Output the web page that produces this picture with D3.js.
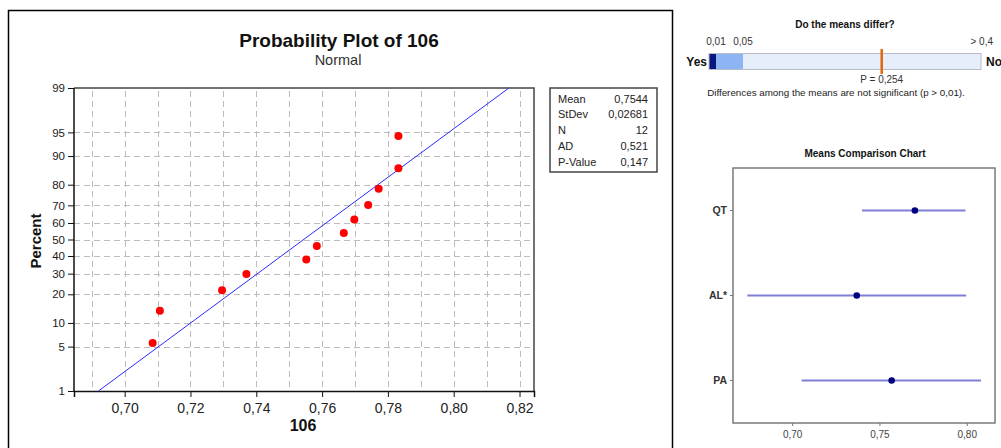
<!DOCTYPE html>
<html lang="en">
<head>
    <meta charset="UTF-8"/>
    <title>Probability Plot of 106</title>
    <style>
        body { margin: 0; background: #fff; }
        text { font-family: "Liberation Sans", Arial, sans-serif; }
    </style>
</head>
<body>
<svg id="chart" width="1001" height="448"></svg>

<script src="https://d3js.org/d3.v7.min.js"></script>
<script type="text/javascript">

    // probability plot data (values of 106 and their plotting percents)
    const sampleValues = [0.7085, 0.7107, 0.7296, 0.7370, 0.7552, 0.7584, 0.7666, 0.7698, 0.7740, 0.7772, 0.7832, 0.7832];
    const samplePercents = [5.6, 13.7, 21.8, 29.8, 37.9, 46.0, 54.0, 62.1, 70.2, 78.2, 86.3, 94.4];
    const percentTicks = [1, 5, 10, 20, 30, 40, 50, 60, 70, 80, 90, 95, 99];
    const xTicks = [0.70, 0.72, 0.74, 0.76, 0.78, 0.80, 0.82];
    const xGrid = [0.69, 0.70, 0.71, 0.72, 0.73, 0.74, 0.75, 0.76, 0.77, 0.78, 0.79, 0.80, 0.81, 0.82];
    const fitMean = 0.7544;
    const fitStDev = 0.02681;
    const statLabels = ["Mean", "StDev", "N", "AD", "P-Value"];
    const statValues = ["0,7544", "0,02681", "12", "0,521", "0,147"];

    // right hand side: p-value bar and means comparison
    const pBreaks = [0, 0.01, 0.05, 0.4];
    const pBreakLabels = ["0,01", "0,05"];
    const pValue = 0.254;
    const groups = ["QT", "AL*", "PA"];
    const groupMeans = [0.7703, 0.7370, 0.7570];
    const groupLow = [0.7400, 0.6743, 0.7054];
    const groupHigh = [0.7993, 0.7997, 0.8082];
    const meanTicks = [0.70, 0.75, 0.80];

    const locale = d3.formatLocale({decimal: ",", thousands: ".", grouping: [3], currency: ["", ""]});
    const fmt2 = locale.format(".2f");

    // inverse normal cdf (Acklam)
    function normInv(p) {
        const a = [-3.969683028665376e+01, 2.209460984245205e+02, -2.759285104469687e+02, 1.383577518672690e+02, -3.066479806614716e+01, 2.506628277459239e+00];
        const b = [-5.447609879822406e+01, 1.615858368580409e+02, -1.556989798598866e+02, 6.680131188771972e+01, -1.328068155288572e+01];
        const c = [-7.784894002430293e-03, -3.223964580411365e-01, -2.400758277161838e+00, -2.549732539343734e+00, 4.374664141464968e+00, 2.938163982698783e+00];
        const d = [7.784695709041462e-03, 3.224671290700398e-01, 2.445134137142996e+00, 3.754408661907416e+00];
        let q, r;
        if (p < 0.02425) {
            q = Math.sqrt(-2 * Math.log(p));
            return (((((c[0] * q + c[1]) * q + c[2]) * q + c[3]) * q + c[4]) * q + c[5]) / ((((d[0] * q + d[1]) * q + d[2]) * q + d[3]) * q + 1);
        }
        if (p > 1 - 0.02425) {
            q = Math.sqrt(-2 * Math.log(1 - p));
            return -(((((c[0] * q + c[1]) * q + c[2]) * q + c[3]) * q + c[4]) * q + c[5]) / ((((d[0] * q + d[1]) * q + d[2]) * q + d[3]) * q + 1);
        }
        q = p - 0.5;
        r = q * q;
        return (((((a[0] * r + a[1]) * r + a[2]) * r + a[3]) * r + a[4]) * r + a[5]) * q / (((((b[0] * r + b[1]) * r + b[2]) * r + b[3]) * r + b[4]) * r + 1);
    }

    let svg = d3.select("#chart");

    // ---------- left panel ----------
    svg.append("rect")
        .attr("x", 8.5).attr("y", 10.5)
        .attr("width", 664).attr("height", 460)
        .attr("fill", "none").attr("stroke", "#000").attr("stroke-width", 1.5);

    let plot = {left: 74, right: 534, top: 88, bottom: 391};

    let x = d3.scaleLinear()
        .domain([0.6846, 0.8244])
        .range([plot.left, plot.right]);

    let z = d3.scaleLinear()
        .domain([normInv(0.01), normInv(0.99)])
        .range([plot.bottom, plot.top]);
    let y = function (pct) { return z(normInv(pct / 100)); };

    svg.append("text")
        .attr("x", 339).attr("y", 47)
        .attr("text-anchor", "middle")
        .style("font-size", "19px").style("font-weight", "bold").style("fill", "#111")
        .text("Probability Plot of 106");
    svg.append("text")
        .attr("x", 338).attr("y", 65)
        .attr("text-anchor", "middle")
        .style("font-size", "14.5px").style("fill", "#333")
        .text("Normal");

    // grid
    let grid = svg.append("g")
        .attr("stroke", "#bdbdbd").attr("stroke-dasharray", "6,4").attr("stroke-width", 1);
    grid.selectAll("line.v")
        .data(xGrid)
        .enter().append("line")
        .attr("class", "v")
        .attr("x1", d => Math.round(x(d)) + 0.5).attr("x2", d => Math.round(x(d)) + 0.5)
        .attr("y1", plot.top + 3).attr("y2", plot.bottom);
    grid.selectAll("line.h")
        .data(percentTicks.filter(d => d > 1 && d < 99))
        .enter().append("line")
        .attr("class", "h")
        .attr("y1", d => Math.round(y(d)) + 0.5).attr("y2", d => Math.round(y(d)) + 0.5)
        .attr("x1", plot.left).attr("x2", plot.right);

    // frame
    svg.append("path")
        .attr("d", `M${plot.left},${plot.top}H${plot.right}V${plot.bottom}`)
        .attr("fill", "none").attr("stroke", "#444").attr("stroke-width", 1.5);

    let xAxis = svg.append("g")
        .attr("transform", `translate(0,${plot.bottom})`)
        .call(d3.axisBottom(x).tickValues(xTicks).tickFormat(fmt2).tickSizeOuter(0).tickSize(6).tickPadding(6));
    xAxis.select(".domain").attr("stroke", "#111").attr("stroke-width", 1.5);
    xAxis.selectAll(".tick line").attr("stroke", "#111");
    xAxis.selectAll("text")
        .style("font-family", "'Liberation Sans', Arial, sans-serif")
        .style("font-size", "14px").style("fill", "#222");

    let yAxis = svg.append("g")
        .attr("transform", `translate(${plot.left},0)`)
        .call(d3.axisLeft(d3.scaleIdentity()).tickValues(percentTicks.map(y)).tickFormat((d, i) => percentTicks[i]).tickSizeOuter(0).tickSize(6).tickPadding(3));
    yAxis.select(".domain").attr("d", `M0,${plot.top}V${plot.bottom}`).attr("stroke", "#111").attr("stroke-width", 1.5);
    yAxis.selectAll(".tick line").attr("stroke", "#111");
    yAxis.selectAll("text")
        .style("font-family", "'Liberation Sans', Arial, sans-serif")
        .style("font-size", "11.5px").style("fill", "#1a1a1a");

    svg.append("text")
        .attr("transform", "translate(41,241) rotate(-90)")
        .attr("text-anchor", "middle")
        .style("font-size", "15px").style("font-weight", "bold").style("fill", "#111")
        .text("Percent");
    svg.append("text")
        .attr("x", 303).attr("y", 431)
        .attr("text-anchor", "middle")
        .style("font-size", "16px").style("font-weight", "bold").style("fill", "#111")
        .text("106");

    // fitted line
    svg.append("line")
        .attr("x1", x(fitMean + normInv(0.01) * fitStDev)).attr("y1", y(1))
        .attr("x2", x(fitMean + normInv(0.99) * fitStDev)).attr("y2", y(99))
        .attr("stroke", "#2b2bff").attr("stroke-width", 1);

    svg.append("g")
        .selectAll("circle")
        .data(sampleValues)
        .enter().append("circle")
        .attr("cx", d => x(d))
        .attr("cy", (d, i) => y(samplePercents[i]))
        .attr("r", 4)
        .attr("fill", "#f00");

    // stats box
    let box = svg.append("g");
    box.append("rect")
        .attr("x", 550).attr("y", 88)
        .attr("width", 107).attr("height", 84)
        .attr("fill", "#fff").attr("stroke", "#444").attr("stroke-width", 1.5);
    box.selectAll("text.lab")
        .data(statLabels)
        .enter().append("text")
        .attr("class", "lab")
        .attr("x", 558).attr("y", (d, i) => 102.5 + i * 15.8)
        .style("font-size", "11px").style("fill", "#222")
        .text(d => d);
    box.selectAll("text.val")
        .data(statValues)
        .enter().append("text")
        .attr("class", "val")
        .attr("x", 648).attr("y", (d, i) => 102.5 + i * 15.8)
        .attr("text-anchor", "end")
        .style("font-size", "11px").style("fill", "#222")
        .text(d => d);

    // ---------- right panel: do the means differ ----------
    let p = d3.scaleLinear().domain(pBreaks).range([709, 716, 743, 981]);
    let barTop = 53.5, barH = 16;

    svg.append("text")
        .attr("x", 845).attr("y", 28)
        .attr("text-anchor", "middle")
        .style("font-size", "10px").style("font-weight", "bold").style("fill", "#111")
        .text("Do the means differ?");

    let segColors = ["#0b1580", "#8db5f4", "#e6eefc"];
    svg.append("g")
        .selectAll("rect")
        .data(d3.pairs(pBreaks))
        .enter().append("rect")
        .attr("x", d => p(d[0])).attr("y", barTop)
        .attr("width", d => p(d[1]) - p(d[0])).attr("height", barH)
        .attr("fill", (d, i) => segColors[i]);
    svg.append("rect")
        .attr("x", p(0)).attr("y", barTop)
        .attr("width", p(0.4) - p(0)).attr("height", barH)
        .attr("fill", "none").attr("stroke", "#b8bcc8").attr("stroke-width", 1);

    svg.selectAll("text.pb")
        .data(pBreakLabels)
        .enter().append("text")
        .attr("class", "pb")
        .attr("x", (d, i) => p(pBreaks[i + 1]))
        .attr("y", 45)
        .attr("text-anchor", "middle")
        .style("font-size", "10px").style("fill", "#333")
        .text(d => d);
    svg.append("text")
        .attr("x", 993).attr("y", 45)
        .attr("text-anchor", "end")
        .style("font-size", "10px").style("fill", "#333")
        .text("> 0,4");

    svg.append("text")
        .attr("x", 707).attr("y", 66)
        .attr("text-anchor", "end")
        .style("font-size", "12px").style("font-weight", "bold").style("fill", "#111")
        .text("Yes");
    svg.append("text")
        .attr("x", 986).attr("y", 66)
        .style("font-size", "12px").style("font-weight", "bold").style("fill", "#111")
        .text("No");

    svg.append("line")
        .attr("x1", p(pValue)).attr("x2", p(pValue))
        .attr("y1", 49).attr("y2", 74)
        .attr("stroke", "#e2670c").attr("stroke-width", 2.5);
    svg.append("text")
        .attr("x", p(pValue)).attr("y", 83)
        .attr("text-anchor", "middle")
        .style("font-size", "10px").style("fill", "#333")
        .text("P = " + locale.format(".3f")(pValue));
    svg.append("text")
        .attr("x", 836).attr("y", 96)
        .attr("text-anchor", "middle")
        .style("font-size", "9.8px").style("fill", "#222")
        .text("Differences among the means are not significant (p > 0,01).");

    // ---------- means comparison chart ----------
    let mc = {left: 733, right: 995, top: 168, bottom: 423};
    let mx = d3.scaleLinear().domain([0.6661, 0.8162]).range([mc.left, mc.right]);
    let my = d3.scaleBand().domain(groups).range([mc.top, mc.bottom]);

    svg.append("text")
        .attr("x", 865).attr("y", 157)
        .attr("text-anchor", "middle")
        .style("font-size", "10px").style("font-weight", "bold").style("fill", "#111")
        .text("Means Comparison Chart");

    svg.append("rect")
        .attr("x", mc.left).attr("y", mc.top)
        .attr("width", mc.right - mc.left).attr("height", mc.bottom - mc.top)
        .attr("fill", "none").attr("stroke", "#7a7a7a").attr("stroke-width", 1.5);

    let mxAxis = svg.append("g")
        .attr("transform", `translate(0,${mc.bottom})`)
        .call(d3.axisBottom(mx).tickValues(meanTicks).tickFormat(fmt2).tickSizeOuter(0).tickSize(3).tickPadding(5));
    mxAxis.select(".domain").remove();
    mxAxis.selectAll(".tick line").attr("stroke", "#777");
    mxAxis.selectAll("text")
        .style("font-family", "'Liberation Sans', Arial, sans-serif")
        .style("font-size", "10px").style("fill", "#444");

    let myAxis = svg.append("g")
        .attr("transform", `translate(${mc.left},0)`)
        .call(d3.axisLeft(my).tickSizeOuter(0).tickSize(3).tickPadding(3));
    myAxis.select(".domain").remove();
    myAxis.selectAll(".tick line").attr("stroke", "#777");
    myAxis.selectAll("text")
        .style("font-family", "'Liberation Sans', Arial, sans-serif")
        .style("font-size", "10.5px").style("font-weight", "bold").style("fill", "#333");

    let bars = svg.append("g")
        .selectAll("g")
        .data(groups)
        .enter().append("g");
    bars.append("line")
        .attr("x1", (d, i) => mx(groupLow[i])).attr("x2", (d, i) => mx(groupHigh[i]))
        .attr("y1", d => my(d) + my.bandwidth() / 2).attr("y2", d => my(d) + my.bandwidth() / 2)
        .attr("stroke", "#7f80d4").attr("stroke-width", 2);
    bars.append("circle")
        .attr("cx", (d, i) => mx(groupMeans[i]))
        .attr("cy", d => my(d) + my.bandwidth() / 2)
        .attr("r", 3.3)
        .attr("fill", "#000080");

</script>
</body>
</html>
